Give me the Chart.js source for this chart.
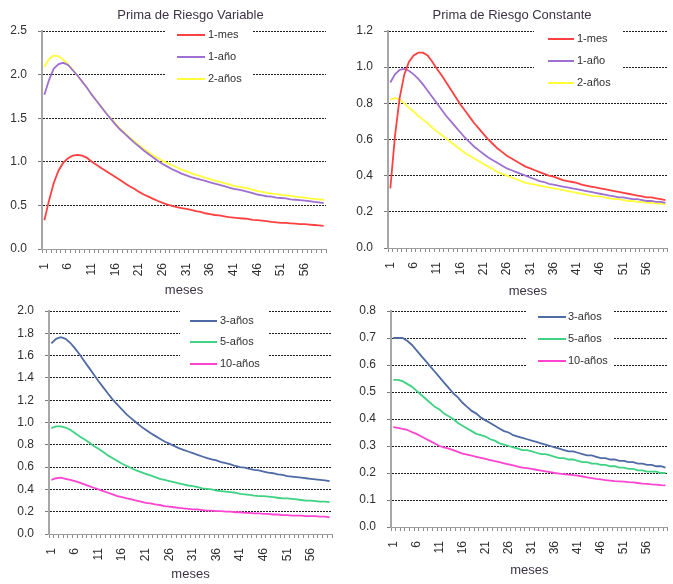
<!DOCTYPE html>
<html>
<head>
<meta charset="utf-8">
<script src="https://cdn.jsdelivr.net/npm/chart.js@4.4.1/dist/chart.umd.min.js"></script>
<style>
  html, body { margin: 0; padding: 0; background: #fff; }
  #page { position: relative; width: 673px; height: 584px; overflow: hidden; background: #fff; }
  #page canvas { position: absolute; left: 0; top: 0; }
</style>
</head>
<body>
<div id="page">
  <canvas id="c1" width="690" height="584"></canvas>
  <canvas id="c2" width="690" height="584"></canvas>
  <canvas id="c3" width="690" height="584"></canvas>
  <canvas id="c4" width="690" height="584"></canvas>
</div>
<script>
// Horizon in months
const months = [1,2,3,4,5,6,7,8,9,10,11,12,13,14,15,16,17,18,19,20,
  21,22,23,24,25,26,27,28,29,30,31,32,33,34,35,36,37,38,39,40,
  41,42,43,44,45,46,47,48,49,50,51,52,53,54,55,56,57,58,59,60];
// Months that carry a tick label
const shownMonths = [1,6,11,16,21,26,31,36,41,46,51,56];

// Prima de Riesgo Variable – short maturities
const varMes = [0.33,0.56,0.76,0.90,0.99,1.04,1.07,1.08,1.07,1.045,
  1.00,0.965,0.93,0.895,0.86,0.825,0.79,0.755,0.72,0.69,
  0.655,0.625,0.60,0.575,0.55,0.53,0.51,0.495,0.48,0.47,
  0.46,0.45,0.435,0.425,0.41,0.40,0.39,0.385,0.375,0.365,
  0.36,0.355,0.35,0.345,0.335,0.33,0.325,0.32,0.31,0.305,
  0.30,0.30,0.295,0.29,0.285,0.285,0.28,0.275,0.27,0.265];
const varAnio = [1.77,1.94,2.07,2.12,2.135,2.11,2.05,1.99,1.92,1.85,
  1.77,1.70,1.63,1.56,1.495,1.43,1.37,1.32,1.27,1.22,
  1.175,1.13,1.09,1.05,1.01,0.975,0.945,0.915,0.89,0.865,
  0.845,0.825,0.81,0.795,0.78,0.765,0.75,0.735,0.72,0.705,
  0.69,0.68,0.67,0.655,0.64,0.625,0.615,0.605,0.60,0.59,
  0.585,0.58,0.57,0.565,0.56,0.555,0.55,0.54,0.535,0.525];
const var2Anios = [2.09,2.18,2.22,2.21,2.17,2.12,2.055,1.99,1.92,1.85,
  1.775,1.70,1.635,1.565,1.50,1.44,1.38,1.33,1.28,1.235,
  1.19,1.15,1.11,1.075,1.04,1.01,0.985,0.96,0.935,0.91,
  0.89,0.87,0.85,0.835,0.815,0.80,0.785,0.77,0.755,0.74,
  0.725,0.715,0.705,0.695,0.68,0.665,0.655,0.645,0.635,0.63,
  0.62,0.615,0.61,0.60,0.595,0.59,0.58,0.575,0.57,0.565];

// Prima de Riesgo Constante – short maturities
const conMes = [0.33,0.62,0.83,0.96,1.03,1.065,1.08,1.08,1.065,1.03,
  0.99,0.955,0.915,0.875,0.835,0.795,0.76,0.725,0.69,0.66,
  0.63,0.60,0.575,0.55,0.53,0.51,0.495,0.48,0.465,0.45,
  0.44,0.43,0.42,0.41,0.40,0.395,0.385,0.375,0.37,0.365,
  0.36,0.35,0.345,0.34,0.335,0.33,0.325,0.32,0.315,0.31,
  0.305,0.30,0.295,0.29,0.285,0.28,0.28,0.275,0.27,0.265];
const conAnio = [0.915,0.96,0.985,0.99,0.98,0.96,0.935,0.905,0.87,0.835,
  0.80,0.765,0.73,0.70,0.67,0.64,0.61,0.585,0.56,0.54,
  0.52,0.50,0.485,0.47,0.455,0.44,0.43,0.42,0.41,0.40,
  0.39,0.38,0.37,0.365,0.355,0.35,0.345,0.34,0.335,0.33,
  0.325,0.32,0.315,0.31,0.305,0.30,0.295,0.29,0.285,0.28,
  0.28,0.275,0.27,0.27,0.265,0.26,0.26,0.255,0.255,0.25];
const con2Anios = [0.82,0.83,0.82,0.80,0.775,0.755,0.73,0.71,0.69,0.665,
  0.645,0.625,0.605,0.585,0.565,0.545,0.525,0.51,0.495,0.48,
  0.465,0.45,0.435,0.42,0.41,0.40,0.39,0.38,0.37,0.36,
  0.355,0.35,0.345,0.34,0.335,0.33,0.325,0.32,0.315,0.31,
  0.305,0.30,0.295,0.29,0.285,0.285,0.28,0.275,0.27,0.27,
  0.265,0.26,0.26,0.255,0.255,0.25,0.25,0.245,0.245,0.24];

// Prima de Riesgo Variable – long maturities
const var3Anios = [1.71,1.75,1.765,1.75,1.715,1.665,1.61,1.55,1.49,1.43,
  1.37,1.315,1.26,1.205,1.16,1.115,1.07,1.035,1.00,0.965,
  0.935,0.905,0.88,0.855,0.83,0.81,0.79,0.77,0.755,0.74,
  0.725,0.71,0.695,0.68,0.67,0.66,0.645,0.635,0.625,0.61,
  0.60,0.595,0.585,0.575,0.57,0.56,0.55,0.545,0.535,0.53,
  0.52,0.515,0.51,0.505,0.50,0.495,0.49,0.485,0.48,0.475];
const var5Anios = [0.95,0.965,0.965,0.955,0.935,0.905,0.875,0.85,0.82,0.79,
  0.765,0.735,0.705,0.68,0.655,0.63,0.61,0.59,0.57,0.555,
  0.54,0.525,0.51,0.495,0.485,0.475,0.465,0.455,0.445,0.435,
  0.43,0.42,0.41,0.405,0.40,0.39,0.385,0.38,0.375,0.37,
  0.36,0.355,0.35,0.345,0.34,0.34,0.335,0.33,0.325,0.32,
  0.32,0.315,0.31,0.305,0.30,0.30,0.295,0.29,0.29,0.285];
const var10Anios = [0.485,0.50,0.505,0.495,0.485,0.475,0.46,0.445,0.43,0.415,
  0.40,0.385,0.37,0.355,0.34,0.33,0.32,0.31,0.30,0.29,
  0.28,0.275,0.265,0.26,0.25,0.245,0.24,0.235,0.23,0.225,
  0.22,0.22,0.215,0.21,0.21,0.205,0.205,0.20,0.20,0.195,
  0.195,0.19,0.19,0.185,0.185,0.18,0.18,0.175,0.175,0.17,
  0.17,0.165,0.165,0.165,0.16,0.16,0.16,0.155,0.155,0.15];

// Prima de Riesgo Constante – long maturities
const con3Anios = [0.70,0.70,0.70,0.69,0.675,0.655,0.635,0.615,0.595,0.575,
  0.555,0.535,0.515,0.495,0.48,0.46,0.445,0.43,0.42,0.405,
  0.395,0.385,0.375,0.365,0.355,0.35,0.34,0.335,0.33,0.325,
  0.32,0.315,0.31,0.305,0.30,0.295,0.29,0.285,0.28,0.28,
  0.275,0.27,0.265,0.265,0.26,0.255,0.255,0.25,0.25,0.245,
  0.245,0.24,0.24,0.235,0.235,0.23,0.23,0.225,0.225,0.22];
const con5Anios = [0.545,0.545,0.54,0.53,0.52,0.505,0.49,0.475,0.46,0.445,
  0.435,0.42,0.41,0.40,0.385,0.375,0.365,0.355,0.345,0.34,
  0.335,0.325,0.32,0.31,0.305,0.30,0.295,0.29,0.285,0.285,
  0.28,0.275,0.27,0.27,0.265,0.26,0.255,0.255,0.25,0.25,
  0.245,0.24,0.24,0.235,0.235,0.23,0.23,0.225,0.225,0.22,
  0.22,0.215,0.215,0.21,0.21,0.205,0.205,0.205,0.20,0.20];
const con10Anios = [0.37,0.367,0.363,0.36,0.352,0.345,0.336,0.327,0.318,0.309,
  0.30,0.295,0.29,0.285,0.278,0.272,0.268,0.264,0.26,0.256,
  0.252,0.248,0.244,0.24,0.236,0.232,0.228,0.224,0.22,0.218,
  0.215,0.212,0.209,0.206,0.203,0.20,0.198,0.196,0.194,0.192,
  0.19,0.187,0.184,0.181,0.178,0.176,0.174,0.172,0.17,0.169,
  0.168,0.166,0.165,0.163,0.161,0.16,0.158,0.157,0.155,0.154];

const FONT = "'Liberation Sans', Arial, sans-serif";
const TEXT = '#2f2f2f';
const COLORS = {
  mes: '#ff4040', anio: '#9d70d2', dos: '#ffff3c',
  tres: '#4f6aa4', cinco: '#3fd283', diez: '#ff44d0'
};

// Panel heading drawn at a fixed spot above each plot
const panelTitle = {
  id: 'panelTitle',
  afterDraw(chart, args, opts) {
    if (!opts.text) return;
    const ctx = chart.ctx;
    ctx.save();
    ctx.font = '13px ' + FONT;
    ctx.fillStyle = '#3b3344';
    ctx.textAlign = 'center';
    ctx.textBaseline = 'middle';
    ctx.fillText(opts.text, opts.x, opts.y);
    ctx.restore();
  }
};

// Legend on a white panel that interrupts the grid lines
const boxLegend = {
  id: 'boxLegend',
  afterDatasetsDraw(chart, args, opts) {
    const ctx = chart.ctx;
    const [bx, by, bw, bh] = opts.box;
    ctx.save();
    ctx.fillStyle = '#ffffff';
    ctx.fillRect(bx, by, bw, bh);
    ctx.font = '11px ' + FONT;
    ctx.textAlign = 'left';
    ctx.textBaseline = 'middle';
    chart.data.datasets.forEach((ds, i) => {
      const y = opts.rows[i];
      ctx.strokeStyle = ds.borderColor;
      ctx.lineWidth = 2;
      ctx.beginPath();
      ctx.moveTo(opts.line[0], y);
      ctx.lineTo(opts.line[1], y);
      ctx.stroke();
      ctx.fillStyle = TEXT;
      ctx.fillText(ds.label, opts.textX, y);
    });
    ctx.restore();
  }
};

function series(label, data, color) {
  return { label, data, borderColor: color, backgroundColor: color,
           borderWidth: 1.8, pointRadius: 0, tension: 0, fill: false };
}

function panel(id, datasets, yMax, yStep, pad, yWidth, xHeight, title, legend) {
  return new Chart(document.getElementById(id), {
    type: 'line',
    data: { labels: months, datasets },
    plugins: [panelTitle, boxLegend],
    options: {
      responsive: false,
      animation: false,
      events: [],
      layout: { padding: pad, autoPadding: false },
      plugins: {
        legend: { display: false },
        tooltip: { enabled: false },
        title: { display: false },
        panelTitle: title,
        boxLegend: legend
      },
      scales: {
        x: {
          type: 'category',
          offset: true,
          afterFit(s) { s.height = xHeight; },
          grid: { display: true, drawOnChartArea: false, drawTicks: true,
                  tickLength: 4, tickColor: '#8c8c8c', offset: true },
          border: { display: true, color: '#9c9c9c', width: 1 },
          ticks: {
            autoSkip: false, minRotation: 90, maxRotation: 90, padding: 10,
            color: TEXT, font: { family: FONT, size: 12 },
            callback(v, i) { return shownMonths.includes(months[i]) ? String(months[i]) : ''; }
          },
          title: { display: true, text: 'meses', color: '#3b3344',
                   font: { family: FONT, size: 13 }, padding: 0 }
        },
        y: {
          min: 0, max: yMax,
          afterFit(s) { s.width = yWidth; },
          grid: { color: '#1e1e1e', lineWidth: 1, drawTicks: true,
                  tickLength: 4, tickColor: '#7a7a7a' },
          border: { display: true, color: '#a6a6a6', width: 2, dash: [2, 1] },
          ticks: {
            stepSize: yStep, padding: 11, color: TEXT,
            font: { family: FONT, size: 12 },
            callback(v) { return Number(v).toFixed(1); }
          }
        }
      }
    }
  });
}

panel('c1', [
    series('1-mes', varMes, COLORS.mes),
    series('1-año', varAnio, COLORS.anio),
    series('2-años', var2Anios, COLORS.dos)
  ], 2.5, 0.5,
  { left: 0, top: 31, right: 364, bottom: 286.2 }, 42, 48.8,
  { text: 'Prima de Riesgo Variable', x: 190.5, y: 15 },
  { box: [165, 24, 88, 66], line: [177, 205], textX: 208, rows: [35, 57, 79] });

panel('c2', [
    series('1-mes', conMes, COLORS.mes),
    series('1-año', conAnio, COLORS.anio),
    series('2-años', con2Anios, COLORS.dos)
  ], 1.2, 0.2,
  { left: 336, top: 31, right: 19, bottom: 285.2 }, 52, 50.8,
  { text: 'Prima de Riesgo Constante', x: 512, y: 15 },
  { box: [534, 24, 89, 68], line: [548, 574], textX: 577, rows: [39, 61, 83] });

panel('c3', [
    series('3-años', var3Anios, COLORS.tres),
    series('5-años', var5Anios, COLORS.cinco),
    series('10-años', var10Anios, COLORS.diez)
  ], 2.0, 0.2,
  { left: 0, top: 311, right: 358, bottom: 2.2 }, 49, 47.8,
  { text: '' },
  { box: [180, 304, 88, 68], line: [190, 217], textX: 220, rows: [321, 342, 364] });

panel('c4', [
    series('3-años', con3Anios, COLORS.tres),
    series('5-años', con5Anios, COLORS.cinco),
    series('10-años', con10Anios, COLORS.diez)
  ], 0.8, 0.1,
  { left: 336, top: 311, right: 12, bottom: 5.5 }, 55, 51.5,
  { text: '' },
  { box: [526, 304, 88, 66], line: [538, 566], textX: 568, rows: [317, 339, 361] });
</script>
</body>
</html>
